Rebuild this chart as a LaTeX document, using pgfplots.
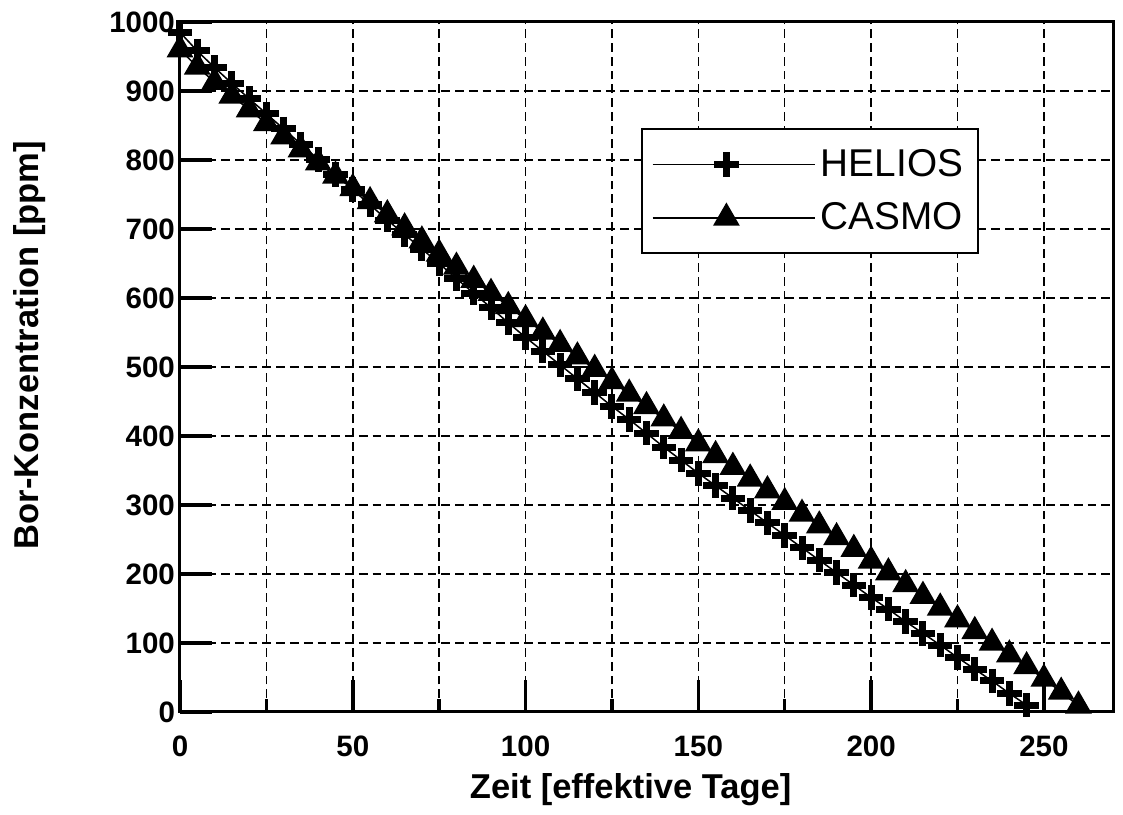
\documentclass[border=0pt]{standalone}
\usepackage{fontspec}
\setmainfont{Liberation Sans}
\usepackage{pgfplots}
\pgfplotsset{compat=1.18}

\begin{document}
\begin{tikzpicture}
\begin{axis}[
    name=ax, at={(0,0)}, anchor=south west,
    scale only axis, width=373.2pt, height=276pt,
    xmin=0, xmax=270, ymin=0, ymax=1000,
    xtick={0,50,...,250}, minor xtick={25,75,...,225},
    ytick={0,100,...,1000},
    tick pos=left, tick align=inside,
    major tick length=12.8pt, minor tick length=5.3pt,
    every tick/.style={black, line width=1.4pt},
    grid=both,
    major grid style={black, line width=0.6pt, dash pattern=on 3.5pt off 2pt},
    minor grid style={black, line width=0.6pt, dash pattern=on 3.5pt off 2pt},
    axis line style={line width=1.2pt},
    ticklabel style={font=\bfseries\fontsize{11.8}{14}\selectfont},
    /pgf/number format/assume math mode=true,
    /pgf/number format/set thousands separator={},
    xticklabel style={yshift=-6pt},
    yticklabel style={xshift=1.5pt},
    xlabel={Zeit [effektive Tage]},
    ylabel={Bor-Konzentration [ppm]},
    label style={font=\bfseries\fontsize{13.8}{16}\selectfont},
    xlabel style={at={(axis description cs:0.483,-0.112)}, anchor=center},
    ylabel style={at={(axis description cs:-0.161,0.532)}, anchor=center},
    clip=false,
    legend cell align=left,
    legend style={at={(axis description cs:0.494,0.846)}, anchor=north west,
        draw=black, line width=0.8pt, row sep=5pt,
        inner xsep=4pt, inner ysep=6pt,
        font=\fontsize{15.5}{18}\selectfont},
    legend image code/.code={\draw[mark repeat=2,mark phase=2,#1]
        plot coordinates {(0pt,0pt) (29.5pt,0pt) (59pt,0pt)};
        \path (59pt,0pt) -- (65pt,0pt);},
]
% HELIOS
\addplot[black, line width=0.6pt, mark=+, mark size=4.9pt,
    mark options={line width=2.8pt}] coordinates {
    (0,985) (5,958) (10,934) (15,911) (20,889) (25,867) (30,845) (35,823)
    (40,801) (45,779) (50,757) (55,735) (60,713) (65,692) (70,671) (75,650)
    (80,628) (85,607) (90,586) (95,564) (100,543) (105,523) (110,503)
    (115,483) (120,463) (125,443) (130,424) (135,404) (140,384) (145,365)
    (150,346) (155,328) (160,310) (165,292) (170,274) (175,256) (180,238)
    (185,220) (190,202) (195,184) (200,166) (205,149) (210,131) (215,114)
    (220,97) (225,79) (230,62) (235,45) (240,27) (245,10)
};
\addlegendentry{HELIOS}
% CASMO
\addplot[black, line width=0.6pt, mark=triangle*, mark size=5.6pt,
    mark options={fill=black}] coordinates {
    (0,960) (5,935) (10,913) (15,893) (20,873) (25,853) (30,834) (35,815)
    (40,796) (45,777) (50,759) (55,740) (60,721) (65,702) (70,683) (75,664)
    (80,645) (85,626) (90,607) (95,588) (100,569) (105,551) (110,533)
    (115,515) (120,497) (125,479) (130,461) (135,443) (140,425) (145,407)
    (150,389) (155,372) (160,355) (165,338) (170,321) (175,304) (180,287)
    (185,270) (190,253) (195,236) (200,219) (205,202) (210,185) (215,168)
    (220,151) (225,134) (230,117) (235,100) (240,83) (245,66) (250,48)
    (255,29) (260,9)
};
\addlegendentry{CASMO}
\end{axis}
\pgfresetboundingbox
\path[use as bounding box] (-72pt,-41.2pt) rectangle (377.2pt,284.8pt);
\end{tikzpicture}
\end{document}
